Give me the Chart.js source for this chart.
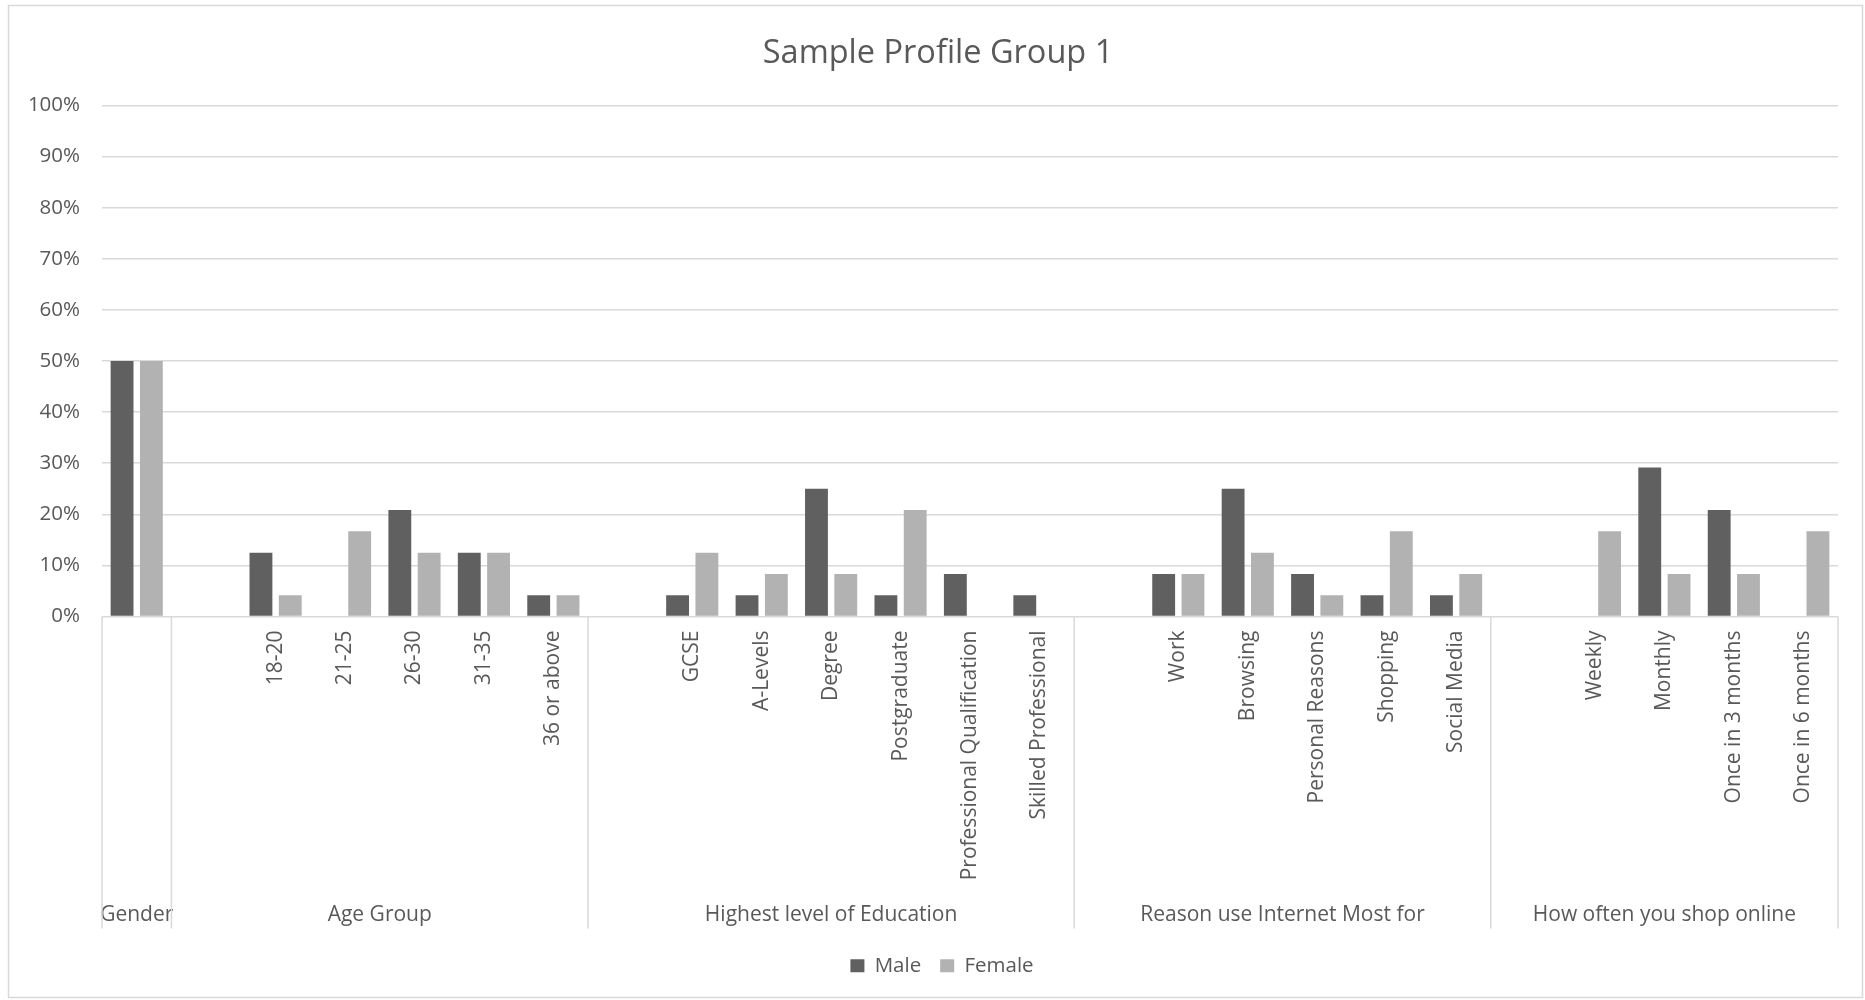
<!DOCTYPE html>
<html>
<head>
<meta charset="utf-8">
<title>Sample Profile Group 1</title>
<script src="https://cdn.jsdelivr.net/npm/chart.js@4.4.1/dist/chart.umd.min.js"></script>
<style>
  html, body { margin: 0; padding: 0; background: #ffffff; }
  #wrap { width: 1865px; height: 1000px; }
</style>
</head>
<body>
<div id="wrap"><canvas id="chart" width="1865" height="1000"></canvas></div>
<script>
// Sub-category labels (blank entries are the spacer slot that opens each group)
const categories = [
  '',
  '', '18-20', '21-25', '26-30', '31-35', '36 or above',
  '', 'GCSE', 'A-Levels', 'Degree', 'Postgraduate', 'Professional Qualification', 'Skilled Professional',
  '', 'Work', 'Browsing', 'Personal Reasons', 'Shopping', 'Social Media',
  '', 'Weekly', 'Monthly', 'Once in 3 months', 'Once in 6 months'
];

// Outer grouping of the category axis and how many slots each group covers
const groupLabels = ['Gender', 'Age Group', 'Highest level of Education', 'Reason use Internet Most for', 'How often you shop online'];
const groupSizes = [1, 6, 7, 6, 5];

// Share of respondents, in percent
const maleValues = [
  50,
  null, 12.5, 0, 20.83, 12.5, 4.17,
  null, 4.17, 4.17, 25, 4.17, 8.33, 4.17,
  null, 8.33, 25, 8.33, 4.17, 4.17,
  null, 0, 29.17, 20.83, 0
];
const femaleValues = [
  50,
  null, 4.17, 16.67, 12.5, 12.5, 4.17,
  null, 12.5, 8.33, 8.33, 20.83, 0, 0,
  null, 8.33, 12.5, 4.17, 16.67, 8.33,
  null, 16.67, 8.33, 8.33, 16.67
];

const yTicks = [0, 10, 20, 30, 40, 50, 60, 70, 80, 90, 100];

const TEXT = '#595959';
const LINE = '#d9d9d9';
const FONT = '"Open Sans", sans-serif';

// Frame around the chart, plus the outer level of the category axis
const groupAxis = {
  id: 'groupAxis',
  beforeDraw(chart) {
    const ctx = chart.ctx;
    ctx.save();
    ctx.fillStyle = '#ffffff';
    ctx.fillRect(0, 0, chart.width, chart.height);
    ctx.strokeStyle = LINE;
    ctx.lineWidth = 1.5;
    ctx.strokeRect(8.5, 5.5, chart.width - 11, chart.height - 8);
    ctx.restore();
  },
  afterLayout(chart) {
    // centre the title and legend on the whole frame rather than the padded area
    chart.titleBlock.left += 15;
    chart.titleBlock.right += 15;
    chart.legend.left += 19;
    chart.legend.right += 19;
  },
  afterDraw(chart) {
    const x = chart.scales.x;
    const ctx = chart.ctx;
    const top = chart.chartArea.bottom;
    const bottom = top + 312;
    const slot = x.getPixelForValue(1) - x.getPixelForValue(0);
    const edge = i => x.getPixelForValue(i) - slot / 2;

    ctx.save();
    ctx.strokeStyle = LINE;
    ctx.lineWidth = 1.5;
    ctx.fillStyle = TEXT;
    ctx.font = '21px ' + FONT;
    ctx.textAlign = 'center';
    ctx.textBaseline = 'alphabetic';

    let start = 0;
    const lines = [edge(0)];
    groupSizes.forEach((n, g) => {
      const l = edge(start);
      const r = edge(start + n);
      lines.push(r);
      ctx.fillText(groupLabels[g], (l + r) / 2, top + 304);
      start += n;
    });
    lines.forEach(px => {
      ctx.beginPath();
      ctx.moveTo(px, top);
      ctx.lineTo(px, bottom);
      ctx.stroke();
    });
    ctx.restore();
  }
};

function draw() {
  Chart.defaults.font.family = FONT;
  Chart.defaults.color = TEXT;

  new Chart(document.getElementById('chart'), {
    type: 'bar',
    data: {
      labels: categories,
      datasets: [
        { label: 'Male', data: maleValues, backgroundColor: '#606060', categoryPercentage: 0.844, barPercentage: 0.78 },
        { label: 'Female', data: femaleValues, backgroundColor: '#b2b2b2', categoryPercentage: 0.844, barPercentage: 0.78 }
      ]
    },
    options: {
      responsive: false,
      animation: false,
      layout: { padding: { top: 6, left: 8, right: 27, bottom: 14 } },
      plugins: {
        title: {
          display: true,
          text: 'Sample Profile Group 1',
          color: TEXT,
          font: { size: 32.5, weight: 'normal', family: FONT },
          padding: { top: 28, bottom: 32.5 }
        },
        legend: {
          position: 'bottom',
          labels: {
            color: TEXT,
            boxWidth: 14,
            boxHeight: 13,
            padding: 19,
            font: { size: 20.5, family: FONT }
          }
        },
        tooltip: { enabled: false }
      },
      scales: {
        x: {
          grid: { display: false },
          border: { display: false },
          ticks: {
            autoSkip: false,
            maxRotation: 90,
            minRotation: 90,
            padding: 6,
            color: TEXT,
            font: { size: 21, family: FONT }
          },
          afterFit(scale) { scale.height = 320; }
        },
        y: {
          min: 0,
          max: 100,
          afterBuildTicks(scale) { scale.ticks = yTicks.map(v => ({ value: v })); },
          grid: { color: LINE, lineWidth: 1.5, drawTicks: false },
          border: { display: false },
          ticks: {
            padding: 22,
            color: TEXT,
            font: { size: 20.5, family: FONT },
            callback: v => v + '%'
          },
          afterFit(scale) { scale.width = 94; }
        }
      }
    },
    plugins: [groupAxis]
  });
}

if (document.fonts && document.fonts.load) {
  document.fonts.load('20px "Open Sans"').then(draw, draw);
} else {
  draw();
}
</script>
</body>
</html>
